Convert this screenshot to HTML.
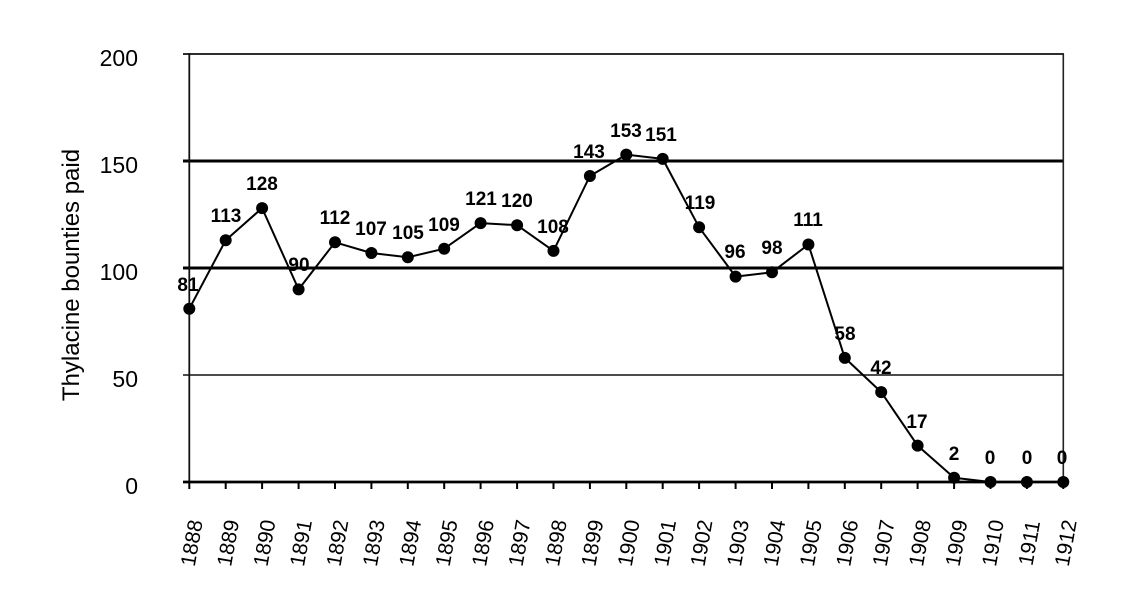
<!DOCTYPE html>
<html>
<head>
<meta charset="utf-8">
<style>
html,body{margin:0;padding:0;background:#fff;}
svg{display:block;}
text{font-family:"Liberation Sans",Arial,sans-serif;fill:#000;}
.d{font-weight:bold;font-size:19px;text-anchor:middle;}
.yt{font-size:23px;text-anchor:end;}
.xt{font-size:21px;text-anchor:middle;}
</style>
</head>
<body>
<svg width="1124" height="600" viewBox="0 0 1124 600" xmlns="http://www.w3.org/2000/svg">
<rect width="1124" height="600" fill="#fff"/>
<!-- gridlines -->
<line x1="183" y1="54" x2="1064" y2="54" stroke="#111" stroke-width="1.7"/>
<line x1="183" y1="161" x2="1064" y2="161" stroke="#000" stroke-width="3"/>
<line x1="183" y1="268" x2="1064" y2="268" stroke="#000" stroke-width="3"/>
<line x1="183" y1="375" x2="1064" y2="375" stroke="#111" stroke-width="1.5"/>
<!-- right border -->
<line x1="1063.3" y1="54" x2="1063.3" y2="482" stroke="#222" stroke-width="1.6"/>
<!-- left axis -->
<line x1="189.3" y1="53" x2="189.3" y2="483" stroke="#111" stroke-width="1.8"/>
<!-- x axis -->
<line x1="183" y1="482" x2="1064" y2="482" stroke="#000" stroke-width="2.8"/>
<!-- x ticks -->
<g stroke="#000" stroke-width="2">
<line x1="189.3" y1="482" x2="189.3" y2="489"/>
<line x1="225.7" y1="482" x2="225.7" y2="489"/>
<line x1="262.1" y1="482" x2="262.1" y2="489"/>
<line x1="298.6" y1="482" x2="298.6" y2="489"/>
<line x1="335.0" y1="482" x2="335.0" y2="489"/>
<line x1="371.4" y1="482" x2="371.4" y2="489"/>
<line x1="407.8" y1="482" x2="407.8" y2="489"/>
<line x1="444.2" y1="482" x2="444.2" y2="489"/>
<line x1="480.6" y1="482" x2="480.6" y2="489"/>
<line x1="517.1" y1="482" x2="517.1" y2="489"/>
<line x1="553.5" y1="482" x2="553.5" y2="489"/>
<line x1="589.9" y1="482" x2="589.9" y2="489"/>
<line x1="626.3" y1="482" x2="626.3" y2="489"/>
<line x1="662.7" y1="482" x2="662.7" y2="489"/>
<line x1="699.1" y1="482" x2="699.1" y2="489"/>
<line x1="735.6" y1="482" x2="735.6" y2="489"/>
<line x1="772.0" y1="482" x2="772.0" y2="489"/>
<line x1="808.4" y1="482" x2="808.4" y2="489"/>
<line x1="844.8" y1="482" x2="844.8" y2="489"/>
<line x1="881.2" y1="482" x2="881.2" y2="489"/>
<line x1="917.6" y1="482" x2="917.6" y2="489"/>
<line x1="954.1" y1="482" x2="954.1" y2="489"/>
<line x1="990.5" y1="482" x2="990.5" y2="489"/>
<line x1="1026.9" y1="482" x2="1026.9" y2="489"/>
<line x1="1063.3" y1="482" x2="1063.3" y2="489"/>
</g>
<!-- y tick labels -->
<text class="yt" x="138" y="66">200</text>
<text class="yt" x="138" y="173">150</text>
<text class="yt" x="138" y="280">100</text>
<text class="yt" x="138" y="387">50</text>
<text class="yt" x="138" y="494">0</text>
<!-- y axis title -->
<text x="0" y="0" font-size="24" text-anchor="middle" transform="translate(79,275) rotate(-90)">Thylacine bounties paid</text>
<!-- series line -->
<polyline fill="none" stroke="#000" stroke-width="2" stroke-linejoin="round"
points="189.3,308.7 225.7,240.2 262.1,208.1 298.6,289.4 335.0,242.3 371.4,253.0 407.8,257.3 444.2,248.7 480.6,223.1 517.1,225.2 553.5,250.9 589.9,176.0 626.3,154.6 662.7,158.9 699.1,227.3 735.6,276.6 772.0,272.3 808.4,244.5 844.8,357.9 881.2,392.1 917.6,445.6 954.1,477.7 990.5,482 1026.9,482 1063.3,482"/>
<!-- markers -->
<g fill="#000">
<circle cx="189.3" cy="308.7" r="6"/>
<circle cx="225.7" cy="240.2" r="6"/>
<circle cx="262.1" cy="208.1" r="6"/>
<circle cx="298.6" cy="289.4" r="6"/>
<circle cx="335.0" cy="242.3" r="6"/>
<circle cx="371.4" cy="253.0" r="6"/>
<circle cx="407.8" cy="257.3" r="6"/>
<circle cx="444.2" cy="248.7" r="6"/>
<circle cx="480.6" cy="223.1" r="6"/>
<circle cx="517.1" cy="225.2" r="6"/>
<circle cx="553.5" cy="250.9" r="6"/>
<circle cx="589.9" cy="176.0" r="6"/>
<circle cx="626.3" cy="154.6" r="6"/>
<circle cx="662.7" cy="158.9" r="6"/>
<circle cx="699.1" cy="227.3" r="6"/>
<circle cx="735.6" cy="276.6" r="6"/>
<circle cx="772.0" cy="272.3" r="6"/>
<circle cx="808.4" cy="244.5" r="6"/>
<circle cx="844.8" cy="357.9" r="6"/>
<circle cx="881.2" cy="392.1" r="6"/>
<circle cx="917.6" cy="445.6" r="6"/>
<circle cx="954.1" cy="477.7" r="6"/>
<circle cx="990.5" cy="482" r="6"/>
<circle cx="1026.9" cy="482" r="6"/>
<circle cx="1063.3" cy="482" r="6"/>
</g>
<!-- data labels -->
<text class="d" x="188" y="291">81</text>
<text class="d" x="226" y="222">113</text>
<text class="d" x="262" y="190">128</text>
<text class="d" x="299" y="271">90</text>
<text class="d" x="335" y="224">112</text>
<text class="d" x="371" y="235">107</text>
<text class="d" x="408" y="239">105</text>
<text class="d" x="444" y="231">109</text>
<text class="d" x="481" y="205">121</text>
<text class="d" x="517" y="207">120</text>
<text class="d" x="553" y="233">108</text>
<text class="d" x="589" y="158">143</text>
<text class="d" x="626" y="137">153</text>
<text class="d" x="661" y="141">151</text>
<text class="d" x="700" y="209">119</text>
<text class="d" x="735" y="258">96</text>
<text class="d" x="772" y="254">98</text>
<text class="d" x="808" y="226">111</text>
<text class="d" x="845" y="340">58</text>
<text class="d" x="881" y="374">42</text>
<text class="d" x="917" y="428">17</text>
<text class="d" x="954" y="460">2</text>
<text class="d" x="990" y="464">0</text>
<text class="d" x="1027" y="464">0</text>
<text class="d" x="1062" y="464">0</text>
<!-- x tick labels -->
<g>
<text class="xt" transform="translate(191.8,543) rotate(-80)" dy="7">1888</text>
<text class="xt" transform="translate(228.2,543) rotate(-80)" dy="7">1889</text>
<text class="xt" transform="translate(264.6,543) rotate(-80)" dy="7">1890</text>
<text class="xt" transform="translate(301.1,543) rotate(-80)" dy="7">1891</text>
<text class="xt" transform="translate(337.5,543) rotate(-80)" dy="7">1892</text>
<text class="xt" transform="translate(373.9,543) rotate(-80)" dy="7">1893</text>
<text class="xt" transform="translate(410.3,543) rotate(-80)" dy="7">1894</text>
<text class="xt" transform="translate(446.7,543) rotate(-80)" dy="7">1895</text>
<text class="xt" transform="translate(483.1,543) rotate(-80)" dy="7">1896</text>
<text class="xt" transform="translate(519.6,543) rotate(-80)" dy="7">1897</text>
<text class="xt" transform="translate(556.0,543) rotate(-80)" dy="7">1898</text>
<text class="xt" transform="translate(592.4,543) rotate(-80)" dy="7">1899</text>
<text class="xt" transform="translate(628.8,543) rotate(-80)" dy="7">1900</text>
<text class="xt" transform="translate(665.2,543) rotate(-80)" dy="7">1901</text>
<text class="xt" transform="translate(701.6,543) rotate(-80)" dy="7">1902</text>
<text class="xt" transform="translate(738.1,543) rotate(-80)" dy="7">1903</text>
<text class="xt" transform="translate(774.5,543) rotate(-80)" dy="7">1904</text>
<text class="xt" transform="translate(810.9,543) rotate(-80)" dy="7">1905</text>
<text class="xt" transform="translate(847.3,543) rotate(-80)" dy="7">1906</text>
<text class="xt" transform="translate(883.7,543) rotate(-80)" dy="7">1907</text>
<text class="xt" transform="translate(920.1,543) rotate(-80)" dy="7">1908</text>
<text class="xt" transform="translate(956.6,543) rotate(-80)" dy="7">1909</text>
<text class="xt" transform="translate(993.0,543) rotate(-80)" dy="7">1910</text>
<text class="xt" transform="translate(1029.4,543) rotate(-80)" dy="7">1911</text>
<text class="xt" transform="translate(1065.8,543) rotate(-80)" dy="7">1912</text>
</g>
</svg>
</body>
</html>
